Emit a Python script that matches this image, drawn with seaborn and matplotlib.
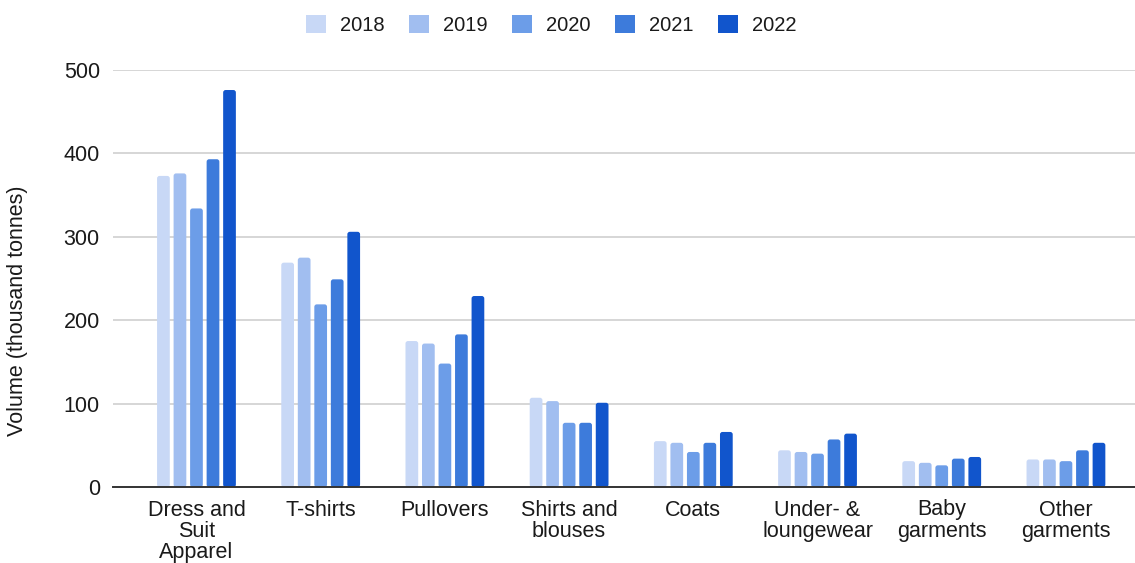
import matplotlib
matplotlib.use("Agg")
import matplotlib.pyplot as plt
from matplotlib.patches import FancyBboxPatch, Patch
import pandas as pd
import seaborn as sns

# Apparel volumes by category and year (thousand tonnes)
categories = ["Dress and\nSuit\nApparel", "T-shirts", "Pullovers", "Shirts and\nblouses",
              "Coats", "Under- &\nloungewear", "Baby\ngarments", "Other\ngarments"]
years = ["2018", "2019", "2020", "2021", "2022"]
v2018 = [373, 269, 175, 107, 55, 44, 31, 33]
v2019 = [376, 275, 172, 103, 53, 42, 29, 33]
v2020 = [334, 219, 148, 77, 42, 40, 26, 31]
v2021 = [393, 249, 183, 77, 53, 57, 34, 44]
v2022 = [476, 306, 229, 101, 66, 64, 36, 53]
colors = ["#c8d8f6", "#a1bef0", "#6c9de8", "#3d7bdb", "#1155cc"]

series = [v2018, v2019, v2020, v2021, v2022]
df = pd.DataFrame({
    "category": [c for _ in years for c in categories],
    "year": [y for y in years for _ in categories],
    "volume": [v for s in series for v in s],
})

sns.set_style("white")
plt.rcParams["font.family"] = ["Liberation Sans", "DejaVu Sans"]
FS = 15.5
TXT = "#1a1a1a"

fig = plt.figure(figsize=(11.35, 5.63), dpi=100)
ax = fig.add_axes([113 / 1135, 76 / 563, 1022 / 1135, 417 / 563])

sns.barplot(data=df, x="category", y="volume", hue="year", order=categories,
            hue_order=years, palette=colors, width=0.665, gap=0.23,
            saturation=1, legend=False, ax=ax, zorder=3)

ax.set_xlim(-0.672, 7.556)
ax.set_ylim(0, 500)

# Swap plain rectangles for bars with softly rounded corners
xpx = 1022 / (7.556 + 0.672)
ypx = 417 / 500
aspect = xpx / ypx
for bar in list(ax.patches):
    x, y = bar.get_x(), bar.get_y()
    w, h = bar.get_width(), bar.get_height()
    if h <= 0:
        continue
    fb = FancyBboxPatch((x, y), w, h,
                        boxstyle=f"round,pad=0,rounding_size={2.5 / xpx}",
                        mutation_aspect=aspect, facecolor=bar.get_facecolor(),
                        edgecolor="none", linewidth=0, zorder=3)
    bar.remove()
    ax.add_patch(fb)

ax.set_yticks([0, 100, 200, 300, 400, 500])
ax.yaxis.grid(True, color="#cccccc", linewidth=1.1, zorder=0)
ax.xaxis.grid(False)
for side in ["top", "right", "left"]:
    ax.spines[side].set_visible(False)
ax.spines["bottom"].set_color("#333333")
ax.spines["bottom"].set_linewidth(1.4)
ax.spines["bottom"].set_zorder(4)

ax.tick_params(axis="both", length=0, labelsize=FS, colors=TXT)
ax.tick_params(axis="y", pad=9.5)
ax.tick_params(axis="x", pad=9)
for lbl in ax.get_xticklabels():
    lbl.set_linespacing(1.03)

ax.set_xlabel("")
ax.set_ylabel("Volume (thousand tonnes)", fontsize=FS, color=TXT)
ax.yaxis.set_label_coords(-0.093, 0.422)
ax.yaxis.label.set_va("center")

handles = [Patch(facecolor=c, edgecolor="none") for c in colors]
fig.legend(handles, years, loc="center", bbox_to_anchor=(0.4855, 1 - 25 / 563),
           ncol=5, frameon=False, fontsize=14.5, handlelength=1.0, handleheight=1.0,
           handletextpad=0.7, columnspacing=1.2, labelcolor=TXT)

fig.savefig("out.png", dpi=100)
